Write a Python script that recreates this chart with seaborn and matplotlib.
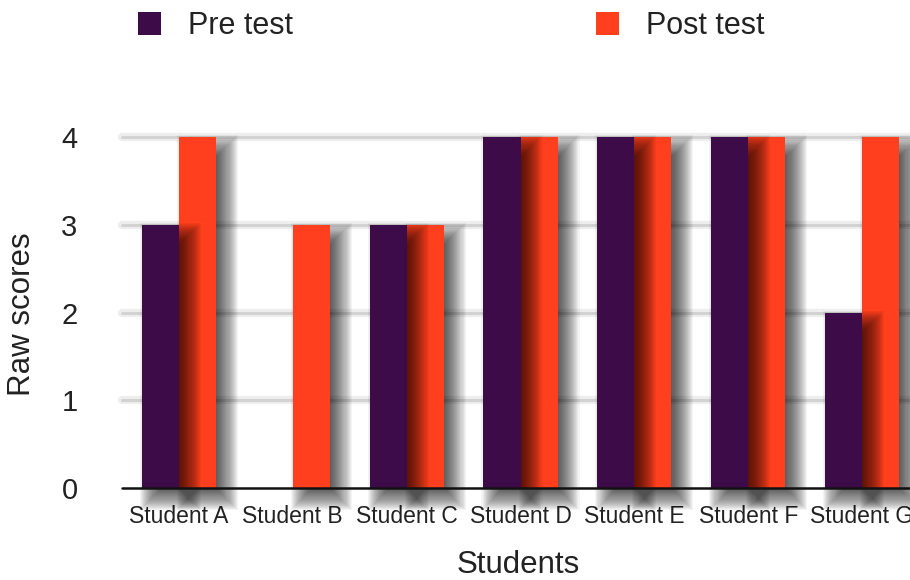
import matplotlib
matplotlib.use("Agg")
import matplotlib.pyplot as plt
from matplotlib.patches import Rectangle
import seaborn as sns
import pandas as pd

students = ["Student A", "Student B", "Student C", "Student D",
            "Student E", "Student F", "Student G"]
pre_test = [3, 0, 3, 4, 4, 4, 2]
post_test = [4, 3, 3, 4, 4, 4, 4]
series_names = ["Pre test", "Post test"]
y_ticks = [0, 1, 2, 3, 4]

PURPLE = "#3c0b48"
ORANGE = "#ff3f1d"

df = pd.DataFrame({
    "Student": students * 2,
    "Score": pre_test + post_test,
    "Test": [series_names[0]] * len(students) + [series_names[1]] * len(students),
})

sns.set_theme(style="white")
plt.rcParams["font.family"] = ["Liberation Sans", "DejaVu Sans"]

W, H, DPI = 910, 580, 100
fig = plt.figure(figsize=(W / DPI, H / DPI), dpi=DPI)
# axes run slightly past the right edge of the canvas
left_px, right_px, bottom_px, top_px = 122, 919, 488, 137
ax = fig.add_axes([left_px / W, 1 - bottom_px / H,
                   (right_px - left_px) / W, (bottom_px - top_px) / H])

sns.barplot(data=df, x="Student", y="Score", hue="Test",
            palette=[PURPLE, ORANGE], width=0.65, saturation=1,
            linewidth=0, ax=ax, zorder=3)
handles, labels = ax.get_legend_handles_labels()
if ax.get_legend() is not None:
    ax.get_legend().remove()

ax.set_xlim(-0.5, len(students) - 0.5)
ax.set_ylim(0, 4)

# light horizontal grid with a soft halo
for y in y_ticks[1:]:
    ax.axhline(y, color="#eeeeee", lw=6, zorder=0, clip_on=False)
    ax.axhline(y, color="#d2d2d2", lw=2.2, zorder=0.5, clip_on=False)

# soft drop shadows to the lower right of every bar
px_x = 1.0 / ((right_px - left_px) / len(students))
px_y = 4.0 / (bottom_px - top_px)
dx, dy, sigma, dark = 10, 10, 6.0, 0.64
n_layers = 24
layer_alpha = 1 - (1 - dark) ** (1 / n_layers)
pre_patches = [p for p in ax.patches if abs(p.get_facecolor()[0] - 0.235) < 0.05]
post_patches = [p for p in ax.patches if p not in pre_patches]
for group, z_shadow, z_bar in ((post_patches, 1, 2), (pre_patches, 3, 4)):
    for p in group:
        p.set_zorder(z_bar)
        h = p.get_height()
        if h <= 0:
            continue
        x0 = p.get_x()
        x1 = x0 + p.get_width()
        for k in range(n_layers):
            e = sigma * (-2 + 4 * k / (n_layers - 1))
            rx0 = x0 + (dx - e) * px_x
            rx1 = x1 + (dx + e) * px_x
            ry0 = (-dy - e) * px_y
            ry1 = h + (-dy + e) * px_y
            if rx1 <= rx0 or ry1 <= ry0:
                continue
            ax.add_patch(Rectangle((rx0, ry0), rx1 - rx0, ry1 - ry0,
                                   facecolor="black", edgecolor="none",
                                   alpha=layer_alpha, zorder=z_shadow,
                                   clip_on=False))

# baseline
ax.axhline(0, color="#111111", lw=1.8, zorder=6, clip_on=False)

for s in ax.spines.values():
    s.set_visible(False)
ax.set_yticks(y_ticks)
ax.set_yticklabels([str(v) for v in y_ticks])
ax.tick_params(axis="y", length=0, pad=32, labelsize=21, labelcolor="#222222")
ax.tick_params(axis="x", length=0, pad=12, labelsize=16.5, labelcolor="#222222")
ax.set_xlabel("")
ax.set_ylabel("")
ax.grid(False)

fig.text(22 / W, 1 - 314 / H, "Raw scores", rotation=90, ha="center",
         va="center", fontsize=22.5, color="#222222")
fig.text(518 / W, 1 - 565 / H, "Students", ha="center", va="center",
         fontsize=22.5, color="#222222")

fs = 22
leg = fig.legend(handles, labels, loc="center left",
                 bbox_to_anchor=(138 / W, 1 - 26 / H), ncol=2, frameon=False,
                 fontsize=fs, handlelength=0.75, handleheight=0.82,
                 handletextpad=0.9, columnspacing=9.9, borderpad=0,
                 borderaxespad=0)
for t in leg.get_texts():
    t.set_color("#222222")

fig.savefig("out.png", dpi=DPI)
